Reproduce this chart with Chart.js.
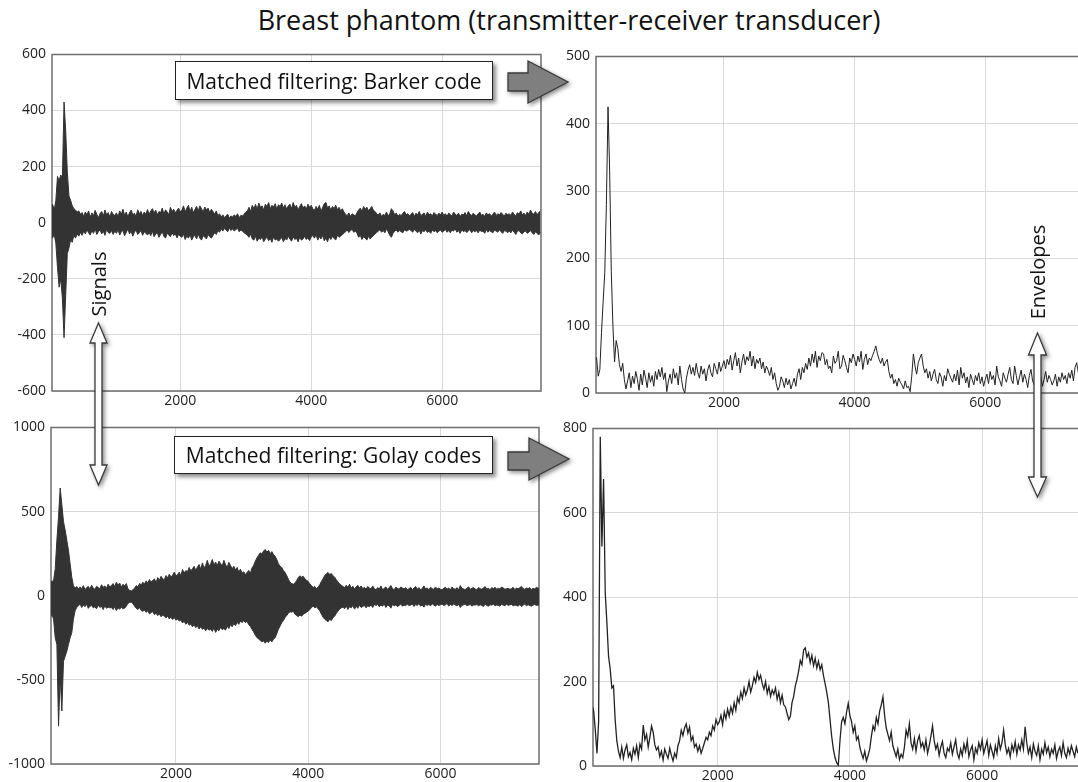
<!DOCTYPE html>
<html>
<head>
<meta charset="utf-8">
<title>Breast phantom (transmitter-receiver transducer)</title>
<script src="https://cdn.jsdelivr.net/npm/chart.js@4.4.0/dist/chart.umd.min.js"></script>
<style>
  html, body { margin: 0; padding: 0; background: #fff; }
  body { width: 1078px; height: 782px; position: relative; overflow: hidden; font-family: "Open Sans", sans-serif; color: #111; }
  canvas { position: absolute; }
  .title { position: absolute; left: 0; top: 1px; width: 1138px; text-align: center; font-size: 27px; white-space: nowrap; }
  .box { position: absolute; box-sizing: border-box; background: #fff; border: 1px solid #222;
         box-shadow: 3px 3px 4px rgba(0,0,0,0.45); font-size: 21px; display: flex; align-items: center; justify-content: center; white-space: nowrap; }
  .vlabel { position: absolute; font-size: 20px; white-space: nowrap; transform: translate(-50%, -50%) rotate(-90deg); }
  svg.arrows { position: absolute; left: 0; top: 0; }
</style>
</head>
<body>
<div class="title">Breast phantom (transmitter-receiver transducer)</div>

<canvas id="sigBarker" width="545" height="375" style="left:0px;top:40px"></canvas>
<canvas id="envBarker" width="530" height="375" style="left:548px;top:42px"></canvas>
<canvas id="sigGolay" width="542" height="369" style="left:0px;top:413px"></canvas>
<canvas id="envGolay" width="533" height="368" style="left:545px;top:414px"></canvas>

<svg class="arrows" width="1078" height="782">
  <g style="filter: drop-shadow(2px 2px 2px rgba(0,0,0,0.45))" stroke="#3a3a3a" stroke-width="1.3" stroke-linejoin="miter">
    <polygon points="508,73 528,73 528,61 568,82 528,103 528,91 508,91" fill="#7f7f7f"/>
    <polygon points="508,452 529,452 529,438 569,459 529,480 529,470 508,470" fill="#7f7f7f"/>
    <polygon points="98.5,323 107,343 102,343 102,465 107,465 98.5,485 90,465 95,465 95,343 90,343" fill="#fff"/>
    <polygon points="1037.5,333 1046.5,355 1041,355 1041,477 1046.5,477 1037.5,497 1028.5,477 1034,477 1034,355 1028.5,355" fill="#fff"/>
  </g>
</svg>

<div class="box" style="left:175px;top:61px;width:318px;height:39px">Matched filtering: Barker code</div>
<div class="box" style="left:174px;top:436px;width:319px;height:38px">Matched filtering: Golay codes</div>
<div class="vlabel" style="left:98px;top:284px">Signals</div>
<div class="vlabel" style="left:1037px;top:272px">Envelopes</div>

<script>
// sample grid: one value every 25 samples, starting at sample 25 (20 values per row = 500 samples)
const sampleStep = 25;

// Barker code, raw signal (upper / lower edge of the dense trace)
const barkerSigUpper = [
  50, 65, 45, 80, 165, 150, 170, 160, 430, 330, 180, 95, 80, 60, 50, 45, 38, 42, 30, 36,
  22, 38, 28, 42, 20, 35, 25, 44, 30, 18, 33, 40, 24, 45, 28, 36, 20, 40, 30, 26,
  35, 22, 42, 30, 48, 26, 38, 20, 36, 45, 28, 34, 22, 46, 32, 40, 25, 38, 30, 47,
  30, 42, 50, 34, 45, 28, 40, 36, 52, 30, 46, 38, 28, 55, 40, 48, 35, 44, 52, 38,
  45, 60, 38, 52, 62, 40, 55, 35, 48, 58, 42, 60, 50, 38, 56, 45, 52, 36, 48, 40,
  30, 42, 25, 32, 20, 28, 18, 25, 30, 16, 24, 20, 28, 22, 32, 18, 26, 24, 30, 38,
  42, 55, 40, 62, 50, 65, 48, 70, 55, 60, 45, 66, 58, 72, 50, 62, 56, 68, 48, 64,
  58, 70, 52, 64, 48, 60, 66, 50, 72, 56, 62, 45, 58, 68, 52, 60, 48, 66, 55, 62,
  50, 44, 58, 48, 62, 40, 55, 68, 72, 52, 60, 45, 58, 50, 62, 46, 55, 42, 50, 38,
  30, 25, 35, 22, 32, 28, 24, 36, 45, 52, 40, 58, 48, 55, 42, 50, 58, 44, 40, 32,
  28, 35, 22, 30, 26, 38, 24, 32, 50, 42, 28, 35, 22, 30, 25, 34, 40, 28, 32, 24,
  30, 36, 22, 34, 28, 40, 25, 30, 35, 22, 38, 28, 32, 24, 36, 30, 26, 34, 28, 38,
  26, 32, 22, 35, 28, 24, 38, 30, 26, 34, 22, 30, 28, 36, 25, 40, 30, 26, 34, 28,
  24, 32, 38, 26, 30, 22, 35, 28, 32, 24, 30, 38, 26, 32, 28, 36, 30, 24, 34, 28,
  32, 26, 38, 30, 24, 36, 30, 42, 28, 34, 26, 38, 30, 45, 34, 30, 40, 28, 36, 42
];
const barkerSigLower = [
  -45, -55, -40, -75, -160, -230, -200, -270, -410, -260, -110, -90, -60, -70, -45, -55, -40, -48, -35, -45,
  -30, -40, -25, -36, -44, -28, -38, -22, -42, -32, -26, -40, -30, -45, -24, -35, -38, -28, -42, -30,
  -38, -25, -44, -32, -28, -46, -35, -22, -40, -30, -48, -34, -26, -42, -36, -28, -45, -32, -38, -44,
  -35, -46, -30, -50, -40, -36, -52, -42, -32, -48, -55, -38, -44, -50, -36, -46, -40, -54, -42, -48,
  -52, -40, -60, -48, -55, -42, -62, -50, -45, -58, -40, -55, -62, -46, -52, -58, -42, -50, -55, -45,
  -36, -42, -28, -34, -22, -30, -20, -26, -32, -18, -28, -22, -30, -24, -20, -32, -26, -30, -36, -40,
  -45, -52, -40, -58, -62, -48, -66, -55, -60, -50, -68, -58, -52, -64, -56, -70, -50, -62, -58, -66,
  -60, -52, -68, -56, -62, -48, -58, -66, -50, -60, -55, -68, -52, -62, -58, -48, -60, -54, -64, -50,
  -46, -55, -42, -62, -50, -58, -45, -64, -55, -68, -50, -60, -48, -56, -62, -45, -52, -48, -42, -38,
  -32, -26, -35, -28, -24, -34, -30, -38, -52, -45, -60, -50, -55, -62, -48, -58, -52, -46, -40, -35,
  -30, -25, -34, -28, -36, -22, -32, -45, -52, -38, -30, -26, -34, -28, -32, -36, -25, -30, -28, -24,
  -28, -34, -24, -30, -36, -26, -40, -28, -32, -25, -35, -30, -38, -26, -32, -28, -36, -30, -26, -34,
  -30, -24, -34, -28, -36, -26, -30, -22, -34, -28, -38, -25, -32, -28, -35, -30, -24, -36, -28, -32,
  -28, -36, -26, -32, -30, -38, -24, -34, -28, -32, -36, -26, -30, -34, -25, -32, -38, -28, -30, -36,
  -30, -36, -26, -34, -42, -30, -28, -36, -40, -32, -30, -38, -34, -28, -36, -42, -32, -38, -44, -35
];

// Golay codes, raw signal
const golaySigUpper = [
  80, 85, 70, 90, 85, 90, 160, 330, 470, 640, 540, 440, 390, 330, 270, 190, 110, 60, 45, 55,
  38, 52, 42, 60, 35, 48, 55, 40, 62, 45, 38, 56, 48, 42, 65, 50, 58, 44, 68, 52,
  60, 72, 55, 80, 62, 75, 50, 68, 58, 72, 40, 32, 28, 36, 45, 60, 52, 72, 65, 80,
  70, 88, 75, 96, 82, 90, 100, 78, 108, 92, 115, 100, 95, 120, 105, 128, 112, 122, 140, 118,
  125, 140, 118, 155, 135, 150, 142, 168, 148, 160, 175, 150, 170, 185, 158, 195, 165, 180, 210, 175,
  190, 215, 182, 200, 178, 205, 192, 175, 210, 185, 168, 198, 180, 160, 175, 152, 168, 140, 158, 135,
  142, 125, 138, 150, 132, 165, 180, 205, 225, 240, 255, 248, 265, 275, 258, 270, 250, 262, 245, 235,
  215, 190, 175, 168, 150, 138, 120, 98, 80, 72, 68, 75, 90, 108, 118, 110, 115, 100, 92, 85,
  70, 60, 48, 55, 42, 52, 65, 85, 100, 120, 130, 138, 126, 132, 118, 110, 95, 82, 70, 62,
  55, 48, 62, 50, 68, 45, 56, 40, 52, 62, 46, 58, 42, 50, 38, 55, 46, 40, 58, 42,
  36, 48, 40, 58, 35, 45, 52, 38, 48, 60, 42, 36, 50, 44, 38, 52, 46, 40, 48, 35,
  42, 50, 36, 46, 55, 38, 48, 34, 44, 58, 40, 46, 36, 50, 42, 38, 52, 40, 46, 38,
  36, 44, 50, 38, 46, 34, 52, 42, 38, 48, 36, 60, 44, 40, 36, 46, 52, 38, 44, 48,
  40, 36, 48, 42, 38, 46, 54, 40, 44, 36, 48, 42, 50, 38, 44, 40, 52, 46, 38, 42,
  44, 38, 42, 50, 36, 46, 40, 48, 54, 42, 38, 46, 42, 48, 36, 44, 40, 50, 44, 46
];
const golaySigLower = [
  -100, -110, -95, -130, -110, -140, -250, -290, -775, -480, -685, -390, -360, -330, -290, -250, -220, -140, -90, -70,
  -60, -48, -70, -55, -65, -50, -75, -62, -58, -72, -66, -78, -55, -70, -62, -82, -60, -75, -68, -72,
  -70, -82, -65, -88, -72, -80, -68, -78, -74, -62, -45, -40, -38, -48, -62, -75, -82, -70, -88, -92,
  -85, -98, -90, -108, -100, -95, -112, -105, -118, -108, -125, -115, -122, -132, -120, -138, -128, -142, -130, -145,
  -138, -150, -145, -162, -152, -170, -158, -175, -168, -185, -172, -190, -178, -198, -185, -200, -192, -208, -195, -205,
  -198, -212, -190, -218, -200, -208, -188, -202, -195, -205, -180, -195, -172, -185, -165, -178, -158, -170, -150, -160,
  -148, -160, -152, -172, -182, -200, -215, -235, -248, -258, -265, -275, -268, -282, -270, -278, -262, -275, -258, -250,
  -225, -200, -180, -160, -148, -130, -118, -105, -95, -98, -92, -110, -118, -125, -115, -122, -110, -105, -98, -92,
  -82, -70, -62, -72, -66, -78, -90, -110, -128, -140, -148, -155, -140, -148, -130, -122, -105, -92, -80, -72,
  -68, -78, -60, -82, -65, -72, -58, -80, -62, -75, -55, -70, -64, -58, -72, -60, -66, -55, -70, -52,
  -58, -52, -66, -55, -62, -50, -70, -56, -60, -74, -52, -60, -55, -64, -58, -50, -62, -56, -60, -50,
  -60, -55, -50, -64, -52, -58, -46, -62, -55, -68, -50, -58, -52, -60, -48, -56, -62, -52, -58, -54,
  -50, -58, -54, -46, -62, -52, -58, -50, -56, -60, -52, -70, -58, -54, -50, -60, -56, -52, -62, -55,
  -56, -52, -60, -54, -58, -64, -50, -58, -62, -54, -56, -50, -60, -55, -58, -62, -52, -56, -60, -50,
  -58, -54, -52, -60, -56, -58, -62, -52, -64, -56, -50, -60, -54, -58, -62, -56, -52, -58, -55, -60
];

// envelopes after matched filtering
const barkerEnvelope = [
  55, 52, 25, 35, 90, 135, 178, 280, 425, 330, 180, 100, 46, 78, 66, 42, 32, 44, 20, 6,
  18, 30, 8, 25, 14, 32, 20, 4, 28, 12, 34, 22, 8, 30, 16, 26, 10, 32, 20, 35,
  24, 38, 20, 30, 2, 18, 28, 14, 36, 22, 30, 12, 40, 20, 6, 0, 22, 34, 42, 28,
  38, 26, 44, 30, 22, 40, 28, 36, 18, 34, 42, 30, 24, 44, 36, 28, 46, 32, 40, 48,
  36, 50, 42, 56, 34, 48, 60, 40, 52, 30, 46, 58, 42, 54, 48, 62, 40, 55, 36, 50,
  44, 52, 36, 46, 30, 40, 34, 26, 38, 20, 30, 14, 4, 10, 24, 18, 8, 22, 12, 20,
  6, 14, 22, 10, 28, 36, 20, 38, 30, 44, 35, 52, 40, 58, 45, 62, 38, 55, 48, 60,
  58, 42, 50, 36, 40, 30, 55, 44, 48, 62, 36, 40, 56, 48, 38, 30, 52, 45, 58, 50,
  40, 55, 46, 62, 35, 50, 58, 42, 52, 48, 56, 62, 70, 58, 50, 44, 52, 40, 46, 50,
  32, 22, 28, 14, 20, 10, 22, 16, 12, 6, 18, 8, 10, 2, 25, 58, 40, 28, 45, 52,
  58, 40, 30, 36, 22, 32, 18, 28, 35, 20, 14, 30, 24, 10, 26, 18, 36, 28, 22, 16,
  28, 18, 34, 12, 38, 22, 30, 15, 24, 8, 28, 20, 12, 26, 18, 30, 14, 24, 10, 20,
  28, 14, 32, 20, 26, 12, 40, 24, 18, 10, 30, 22, 16, 28, 38, 20, 14, 40, 26, 12,
  24, 34, 16, 28, 20, 8, 26, 35, 18, 12, 30, 22, 14, 25, 10, 20, 32, 16, 26, 20,
  12, 18, 28, 10, 24, 16, 30, 20, 26, 14, 30, 22, 34, 18, 38, 45, 30, 22, 35, 40
];
const golayEnvelope = [
  150, 145, 130, 145, 130, 85, 30, 105, 780, 520, 680, 410, 340, 260, 230, 185, 190, 110, 60, 35,
  20, 45, 18, 38, 50, 22, 32, 15, 42, 28, 48, 20, 52, 40, 97, 62, 75, 45, 68, 95,
  80, 50, 38, 45, 22, 35, 14, 40, 28, 18, 42, 25, 12, 30, 20, 48, 60, 85, 72, 90,
  100, 78, 92, 60, 70, 45, 52, 35, 48, 30, 42, 55, 68, 62, 80, 72, 95, 85, 110, 98,
  105, 120, 98, 128, 112, 135, 118, 140, 125, 150, 132, 162, 150, 175, 160, 185, 168, 180, 200, 175,
  190, 210, 198, 222, 205, 215, 195, 182, 200, 172, 188, 165, 180, 170, 185, 158, 175, 150, 168, 145,
  140, 125, 110, 118, 150, 165, 190, 205, 225, 250, 240, 275, 280, 258, 268, 245, 262, 238, 255, 232,
  248, 228, 240, 215, 195, 175, 150, 110, 70, 40, 20, 8, 2, 60, 105, 115, 100, 128, 148, 120,
  105, 80, 95, 62, 70, 45, 30, 18, 35, 12, 25, 40, 70, 95, 85, 115, 100, 130, 145, 164,
  120, 90, 75, 60, 80, 48, 35, 22, 40, 15, 28, 20, 45, 85, 70, 100, 55, 40, 65, 35,
  60, 72, 45, 55, 38, 62, 30, 48, 70, 95, 60, 40, 52, 25, 45, 58, 30, 20, 42, 35,
  55, 28, 45, 62, 30, 18, 40, 25, 52, 35, 60, 22, 38, 48, 15, 42, 30, 55, 40, 62,
  30, 45, 60, 25, 50, 35, 20, 48, 30, 65, 40, 55, 85, 50, 30, 42, 22, 50, 35, 58,
  28, 50, 38, 62, 40, 93, 55, 30, 45, 20, 52, 35, 25, 48, 15, 40, 28, 55, 32, 45,
  22, 40, 30, 50, 18, 35, 45, 25, 55, 30, 20, 42, 28, 48, 35, 22, 45, 30, 50, 38
];

// tick labels
const xTickValues = [2000, 4000, 6000];
const barkerSigTicks = [-600, -400, -200, 0, 200, 400, 600];
const golaySigTicks = [-1000, -500, 0, 500, 1000];
const barkerEnvTicks = [0, 100, 200, 300, 400, 500];
const golayEnvTicks = [0, 200, 400, 600, 800];

const toPoints = arr => arr.map((v, i) => ({ x: (i + 1) * sampleStep, y: v }));

const traceColor = '#333';
const gridColor = '#d9d9d9';
const tickFont = { family: 'Open Sans', size: 14 };

// dark frame round the plot area (right panels run off the page, no right edge)
const framePlugin = {
  id: 'frame',
  beforeDatasetsDraw(chart, args, opts) {
    const { ctx, chartArea: a } = chart;
    ctx.save();
    ctx.strokeStyle = '#6e6e6e';
    ctx.lineWidth = 1.5;
    ctx.beginPath();
    if (opts.openRight) {
      ctx.moveTo(a.right + 5, a.top);
      ctx.lineTo(a.left, a.top);
      ctx.lineTo(a.left, a.bottom);
      ctx.lineTo(a.right + 5, a.bottom);
    } else {
      ctx.rect(a.left, a.top, a.right - a.left, a.bottom - a.top);
    }
    ctx.stroke();
    ctx.restore();
  }
};

function makePanel(id, datasets, xMin, xMax, yTicks, axisW, axisH, padRight, openRight) {
  return new Chart(document.getElementById(id), {
    type: 'line',
    data: { datasets },
    options: {
      responsive: false,
      animation: false,
      events: [],
      layout: { padding: { top: 14, right: padRight, left: 0, bottom: 0 } },
      elements: { point: { radius: 0 }, line: { tension: 0 } },
      plugins: {
        legend: { display: false },
        tooltip: { enabled: false },
        frame: { openRight }
      },
      scales: {
        x: {
          type: 'linear',
          min: xMin,
          max: xMax,
          afterBuildTicks: s => { s.ticks = xTickValues.map(v => ({ value: v })); },
          afterFit: s => { s.height = axisH; },
          grid: { color: gridColor, drawTicks: false },
          border: { display: false },
          ticks: { color: '#222', font: tickFont, padding: 2, maxRotation: 0, autoSkip: false, callback: v => String(v) }
        },
        y: {
          min: yTicks[0],
          max: yTicks[yTicks.length - 1],
          afterBuildTicks: s => { s.ticks = yTicks.map(v => ({ value: v })); },
          afterFit: s => { s.width = axisW; },
          grid: { color: gridColor, drawTicks: false },
          border: { display: false },
          ticks: { color: '#222', font: tickFont, padding: 6, callback: v => String(v) }
        }
      }
    },
    plugins: [framePlugin]
  });
}

function band(upper, lower) {
  return [
    { data: toPoints(upper), borderColor: traceColor, backgroundColor: traceColor, borderWidth: 1, fill: '+1' },
    { data: toPoints(lower), borderColor: traceColor, borderWidth: 1, fill: false }
  ];
}

function envelope(values, width) {
  return [{ data: toPoints(values), borderColor: '#222', borderWidth: width, fill: false }];
}

makePanel('sigBarker', band(barkerSigUpper, barkerSigLower), 41, 7510, barkerSigTicks, 52, 24, 4, false);
makePanel('envBarker', envelope(barkerEnvelope, 1), 41, 7420, barkerEnvTicks, 48, 24, 0, true);
makePanel('sigGolay', band(golaySigUpper, golaySigLower), 111, 7490, golaySigTicks, 51, 18, 3, false);
makePanel('envGolay', envelope(golayEnvelope, 1.3), 115, 7450, golayEnvTicks, 48, 16, 0, true);
</script>
</body>
</html>
